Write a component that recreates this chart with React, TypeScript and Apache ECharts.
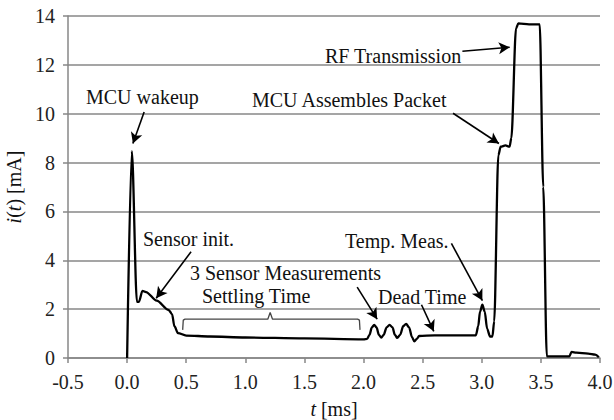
import React, { useEffect, useRef } from "react";
import * as echarts from "echarts";

const tValues = [
  0.0, 0.04, 0.083, 0.1, 0.13, 0.16, 0.25, 0.35, 0.38, 0.4, 0.43, 0.5, 0.7, 1.0, 1.5, 2.0,
  2.03, 2.05, 2.07, 2.09, 2.11, 2.13, 2.15, 2.17, 2.195, 2.22, 2.245, 2.265, 2.285, 2.31,
  2.335, 2.36, 2.385, 2.41, 2.43, 2.45, 2.47,
  2.6, 2.95, 2.97, 2.985, 3.005, 3.025, 3.045, 3.07, 3.09, 3.105, 3.14, 3.16, 3.2, 3.235,
  3.25, 3.29, 3.31, 3.4, 3.49, 3.52, 3.55, 3.74, 3.76, 3.8, 3.9, 3.96, 3.99,
];
const iValues = [
  0.0, 8.47, 2.3, 2.3, 2.75, 2.7, 2.35, 1.97, 1.8, 1.3, 1.02, 0.92, 0.88, 0.84, 0.8, 0.76,
  0.78, 0.95, 1.25, 1.36, 1.25, 0.95, 0.83, 0.95, 1.25, 1.36, 1.25, 0.95, 0.82, 0.95,
  1.3, 1.4, 1.25, 0.85, 0.68, 0.78, 0.9,
  0.93, 0.93, 1.3, 1.9, 2.18, 1.9, 1.2, 0.88, 0.88, 1.5, 8.3, 8.65, 8.7, 8.65,
  9.0, 13.5, 13.7, 13.66, 13.66, 7.0, 0.07, 0.07, 0.25, 0.22, 0.18, 0.14, 0.03,
];

const bracketT = [0.47, 0.475, 0.49, 1.19, 1.21, 1.23, 1.95, 1.965, 1.97];
const bracketI = [1.15, 1.55, 1.59, 1.59, 1.86, 1.59, 1.59, 1.55, 1.15];

const xTicks = { min: -0.5, max: 4.0, step: 0.5 };
const yTicks = { min: 0, max: 14, step: 2 };

// arrows: [tailT, tailI, headT, headI]
const arrows = [
  [0.144, 10.07, 0.049, 8.78],
  [2.836, 12.56, 3.236, 12.72],
  [2.757, 10.02, 3.145, 8.78],
  [0.541, 4.35, 0.246, 2.45],
  [1.946, 2.9, 2.115, 1.59],
  [2.49, 2.18, 2.594, 1.09],
  [2.743, 4.69, 3.005, 2.35],
];

const labels = [
  { text: "MCU wakeup", x: 86, y: 97 },
  { text: "RF Transmission", x: 325, y: 56 },
  { text: "MCU Assembles Packet", x: 252, y: 100 },
  { text: "Sensor init.", x: 143, y: 239 },
  { text: "3 Sensor Measurements", x: 190, y: 273 },
  { text: "Settling Time", x: 202, y: 296 },
  { text: "Dead Time", x: 378, y: 297 },
  { text: "Temp. Meas.", x: 345, y: 241 },
];

const FONT = "Liberation Serif";

export default function App() {
  const ref = useRef<HTMLDivElement>(null);
  useEffect(() => {
    document.body.style.margin = "0";
    const chart = echarts.init(ref.current!, null, { renderer: "svg" });
    const gray = "#878787";
    chart.setOption({
      animation: false,
      backgroundColor: "#fff",
      textStyle: { fontFamily: FONT },
      grid: { left: 68, right: 14, top: 16, bottom: 62, outerBoundsMode: "none", containLabel: false },
      xAxis: {
        type: "value",
        min: xTicks.min,
        max: xTicks.max,
        interval: xTicks.step,
        name: "{it|t} [ms]",
        nameLocation: "middle",
        nameGap: 41,
        nameTextStyle: {
          fontFamily: FONT,
          fontSize: 20,
          color: "#111",
          rich: { it: { fontFamily: FONT, fontSize: 20, fontStyle: "italic", color: "#111" } },
        },
        axisLine: { show: true, onZero: false, lineStyle: { color: gray, width: 1.5 } },
        axisTick: { show: true, length: 5, lineStyle: { color: gray, width: 1.5 } },
        splitLine: { show: false },
        axisLabel: {
          fontFamily: FONT,
          fontSize: 20,
          color: "#222",
          margin: 14,
          formatter: (v: number) => v.toFixed(1),
        },
      },
      yAxis: {
        type: "value",
        min: yTicks.min,
        max: yTicks.max,
        interval: yTicks.step,
        name: "{it|i}({it|t}) [mA]",
        nameLocation: "middle",
        nameGap: 38,
        nameTextStyle: {
          fontFamily: FONT,
          fontSize: 20,
          color: "#111",
          rich: { it: { fontFamily: FONT, fontSize: 20, fontStyle: "italic", color: "#111" } },
        },
        axisLine: { show: true, onZero: false, lineStyle: { color: gray, width: 1.5 } },
        axisTick: { show: true, length: 5, lineStyle: { color: gray, width: 1.5 } },
        splitLine: { show: true, lineStyle: { color: gray, width: 1.5 } },
        axisLabel: { fontFamily: FONT, fontSize: 20, color: "#222", margin: 13 },
      },
      series: [
        {
          type: "line",
          data: tValues.map((t, k) => [t, iValues[k]]),
          showSymbol: false,
          smooth: 0.3,
          smoothMonotone: "x",
          lineStyle: { color: "#000", width: 2.3 },
          z: 5,
          markLine: {
            silent: true,
            symbol: ["none", "arrow"],
            symbolSize: [9, 11],
            label: { show: false },
            lineStyle: { color: "#000", width: 1.6, type: "solid" },
            data: arrows.map((a) => [
              { coord: [a[0], a[1]] },
              { coord: [a[2], a[3]] },
            ]),
          },
        },
        {
          type: "line",
          data: bracketT.map((t, k) => [t, bracketI[k]]),
          showSymbol: false,
          lineStyle: { color: "#444", width: 1.3 },
          z: 4,
        },
      ],
      graphic: labels.map((l) => ({
        type: "text",
        x: l.x,
        y: l.y,
        z: 10,
        style: {
          text: l.text,
          fontFamily: FONT,
          fontSize: 20,
          fill: "#111",
          textAlign: "left",
          textVerticalAlign: "middle",
        },
      })),
    });
    return () => chart.dispose();
  }, []);
  return <div ref={ref} style={{ width: 614, height: 420 }} />;
}
